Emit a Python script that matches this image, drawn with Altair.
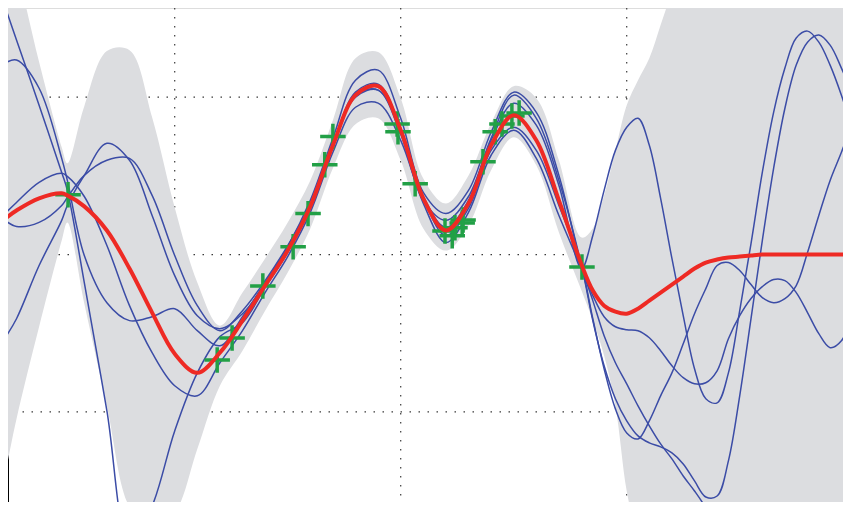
import altair as alt
import pandas as pd

# shared x grid (data units)
X = [-8.75, -8.5, -8, -7.5, -7.375, -7, -6.5, -6, -5.5, -5, -4.5, -4, -3.5, -3, -2.5, -2,
     -1.5, -1, -0.5, 0, 0.5, 1, 1.5, 2, 2.5, 3, 3.5, 4, 4.25, 4.5, 4.75, 5, 5.25, 5.5,
     5.75, 6, 6.25, 6.5, 6.75, 7, 7.25, 7.5, 7.75, 8, 8.25, 8.5, 8.75, 9, 9.25, 9.5, 9.75, 10]

MEAN = [0.229, 0.280, 0.357, 0.389, 0.376, 0.306, 0.153, -0.089, -0.369, -0.631, -0.752, -0.624,
        -0.420, -0.197, 0.025, 0.306, 0.694, 1.013, 1.070, 0.790, 0.357, 0.153, 0.325, 0.694,
        0.885, 0.726, 0.344, -0.064, -0.229, -0.325, -0.363, -0.376, -0.344, -0.293, -0.242,
        -0.191, -0.140, -0.089, -0.051, -0.032, -0.019, -0.013, -0.006, 0, 0, 0, 0, 0, 0, 0, 0, 0]

UPPER = [2.0, 1.809, 1.223, 0.682, 0.580, 0.943, 1.293, 1.299, 0.873, 0.299, -0.178, -0.452,
         -0.242, -0.025, 0.204, 0.471, 0.854, 1.248, 1.287, 0.994, 0.484, 0.325, 0.503, 0.834,
         1.070, 0.994, 0.599, 0.108, 0.166, 0.376, 0.662, 0.949, 1.108, 1.248, 1.459, 1.682,
         2.0, 2.0, 2.0, 2.0, 2.0, 2.0, 2.0, 2.0, 2.0, 2.0, 2.0, 2.0, 2.0, 2.0, 2.0, 2.0]

LOWER = [-1.395, -1.045, -0.459, 0.089, 0.204, -0.312, -0.962, -1.605, -1.745, -1.643, -1.236,
         -0.834, -0.611, -0.357, -0.115, 0.166, 0.548, 0.828, 0.866, 0.599, 0.166, 0.025, 0.185,
         0.535, 0.745, 0.567, 0.140, -0.229, -0.420, -0.643, -0.962, -1.503, -1.822, -2.076,
         -2.204, -2.331, -2.0, -2.0, -2.0, -2.0, -2.0, -2.0, -2.0, -2.0, -2.0, -2.0, -2.0, -2.0,
         -2.0, -2.0, -2.0, -2.0]

S1 = [1.573, 1.363, 0.949, 0.522, 0.408, -0.178, -0.994, -1.854, -1.599, -1.121, -0.752, -0.522,
      -0.433, -0.210, 0.013, 0.293, 0.688, 1.032, 1.083, 0.803, 0.369, 0.172, 0.344, 0.726,
      0.962, 0.822, 0.439, -0.089, 0.121, 0.408, 0.662, 0.809, 0.866, 0.694, 0.357, -0.025,
      -0.389, -0.726, -0.917, -0.943, -0.752, -0.357, 0.070, 0.522, 0.904, 1.185, 1.376, 1.420,
      1.350, 1.204, 1.013, 0.790]

S2 = [1.217, 1.236, 1.057, 0.611, 0.471, -0.006, -0.306, -0.420, -0.395, -0.344, -0.484, -0.580,
      -0.395, -0.178, 0.051, 0.344, 0.739, 1.108, 1.172, 0.866, 0.395, 0.261, 0.408, 0.777,
      1.032, 0.904, 0.503, -0.076, -0.293, -0.516, -0.688, -0.822, -0.962, -1.089, -1.204,
      -1.299, -1.408, -1.503, -1.611, -1.758, -1.917, -2.045, -2.140, -2.204, -2.236, -2.236,
      -2.204, -2.140, -2.045, -1.917, -1.790, -1.662]

S3 = [0.261, 0.331, 0.459, 0.516, 0.497, 0.369, 0.057, -0.325, -0.624, -0.834, -0.898, -0.688,
      -0.484, -0.242, -0.013, 0.268, 0.650, 0.936, 0.962, 0.726, 0.325, 0.076, 0.268, 0.631,
      0.790, 0.611, 0.248, -0.089, -0.261, -0.395, -0.459, -0.478, -0.484, -0.529, -0.611,
      -0.707, -0.783, -0.822, -0.815, -0.739, -0.535, -0.389, -0.280, -0.204, -0.159, -0.166,
      -0.242, -0.369, -0.503, -0.592, -0.548, -0.369]

S4 = [0.217, 0.178, 0.204, 0.312, 0.363, 0.503, 0.599, 0.611, 0.376, -0.006, -0.325, -0.484,
      -0.357, -0.166, 0.057, 0.318, 0.707, 1.0, 1.045, 0.790, 0.357, 0.121, 0.293, 0.662,
      0.809, 0.662, 0.312, -0.076, -0.408, -0.726, -0.981, -1.134, -1.172, -1.057, -0.898,
      -0.752, -0.567, -0.376, -0.217, -0.070, -0.051, -0.102, -0.191, -0.274, -0.306, -0.280,
      -0.197, 0.013, 0.248, 0.471, 0.650, 0.841]

S5 = [-0.529, -0.408, -0.070, 0.217, 0.312, 0.503, 0.707, 0.599, 0.248, -0.134, -0.389, -0.471,
      -0.376, -0.191, 0.025, 0.299, 0.682, 1.013, 1.045, 0.764, 0.344, 0.217, 0.369, 0.739,
      1.013, 0.866, 0.471, -0.070, -0.420, -0.707, -0.917, -1.057, -1.153, -1.197, -1.223,
      -1.261, -1.331, -1.439, -1.541, -1.535, -1.312, -0.898, -0.408, 0.089, 0.548, 0.930,
      1.204, 1.350, 1.395, 1.331, 1.185, 1.013]

# observations (green crosses)
OBS_X = [-7.36, -4.06, -3.73, -3.05, -2.38, -2.05, -1.68, -1.50, -0.08, -0.06, 0.32, 0.98,
         1.14, 1.20, 1.36, 1.38, 1.82, 2.09, 2.24, 2.46, 2.62, 4.01]
OBS_Y = [0.38, -0.67, -0.53, -0.20, 0.05, 0.26, 0.57, 0.75, 0.83, 0.78, 0.45, 0.15,
         0.12, 0.17, 0.20, 0.22, 0.59, 0.78, 0.83, 0.88, 0.90, -0.08]

# dotted grid positions
GRID_X = [-5, 0, 5]
GRID_Y = [-1, 0, 1]
# left axis line (x position of the y axis)
AXIS_X = [-8.688]

band_df = pd.DataFrame({"x": X, "lo": LOWER, "hi": UPPER})
mean_df = pd.DataFrame({"x": X, "y": MEAN})
rows = []
for name, vals in [("s1", S1), ("s2", S2), ("s3", S3), ("s4", S4), ("s5", S5)]:
    for xv, yv in zip(X, vals):
        rows.append({"x": xv, "y": yv, "sample": name})
samples_df = pd.DataFrame(rows)
obs_df = pd.DataFrame({"x": OBS_X, "y": OBS_Y})
gx_df = pd.DataFrame({"gx": GRID_X})
gy_df = pd.DataFrame({"gy": GRID_Y})
ax_df = pd.DataFrame({"ax": AXIS_X})

xs = alt.Scale(domain=[-8.688, 9.785], nice=False, zero=False)
ys = alt.Scale(domain=[-1.573, 1.567], nice=False, zero=False)

axis_line = alt.Chart(ax_df).mark_rule(color="#000000", strokeWidth=2).encode(
    x=alt.X("ax:Q", scale=xs, axis=None),
)
grid_v = alt.Chart(gx_df).mark_rule(color="#3a3a3a", strokeWidth=1.2, strokeDash=[1.5, 7.5]).encode(
    x=alt.X("gx:Q", scale=xs, axis=None),
)
grid_h = alt.Chart(gy_df).mark_rule(color="#3a3a3a", strokeWidth=1.2, strokeDash=[1.5, 7.5]).encode(
    y=alt.Y("gy:Q", scale=ys, axis=None),
)

band = alt.Chart(band_df).mark_area(color="#dcdde0", interpolate="catmull-rom", clip=True).encode(
    x=alt.X("x:Q", scale=xs, axis=None),
    y=alt.Y("lo:Q", scale=ys, axis=None),
    y2="hi:Q",
)

blue = alt.Chart(samples_df).mark_line(color="#3b4ca6", strokeWidth=1.5, interpolate="catmull-rom",
                                       clip=True).encode(
    x=alt.X("x:Q", scale=xs, axis=None),
    y=alt.Y("y:Q", scale=ys, axis=None),
    detail="sample:N",
)

pts = alt.Chart(obs_df).mark_point(shape="M-1,0L1,0M0,-1L0,1", size=650, strokeWidth=3.5,
                                   color="#22a046", filled=False, opacity=1, clip=True).encode(
    x=alt.X("x:Q", scale=xs, axis=None),
    y=alt.Y("y:Q", scale=ys, axis=None),
)

red = alt.Chart(mean_df).mark_line(color="#ee2a24", strokeWidth=4, interpolate="catmull-rom",
                                   clip=True).encode(
    x=alt.X("x:Q", scale=xs, axis=None),
    y=alt.Y("y:Q", scale=ys, axis=None),
)

chart = alt.layer(axis_line, grid_v, grid_h, band, blue, pts, red).properties(
    width=835, height=494, padding=0,
    autosize=alt.AutoSizeParams(type="none"),
).configure_view(strokeOpacity=0, strokeWidth=0, stroke="#ffffff").configure(background="white")

chart.save("out.html", embed_options={"renderer": "svg", "actions": False})
